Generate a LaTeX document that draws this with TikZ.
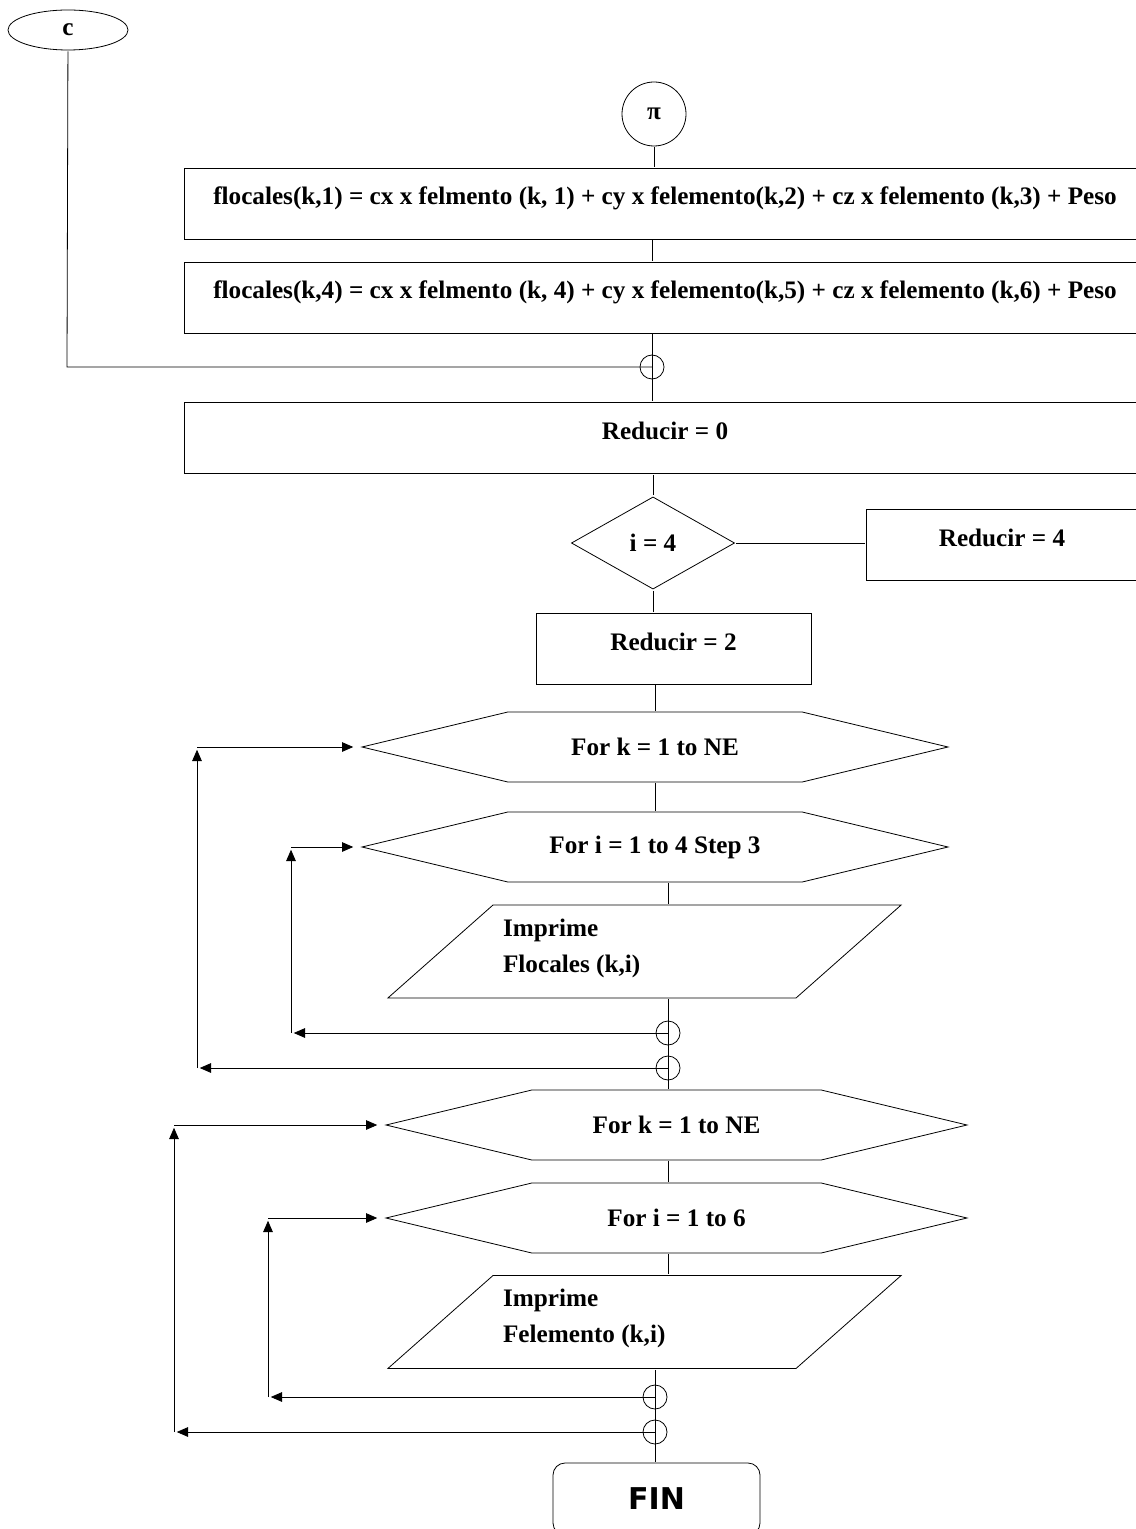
\documentclass[tikz,border=0pt]{standalone}
\usepackage{fontspec}
\setmainfont{Liberation Serif}
\newfontfamily\finfont{DejaVu Sans}
\usetikzlibrary{shapes.geometric,shapes.symbols,arrows.meta}

\begin{document}
\begin{tikzpicture}
                \tikzset{x=0.5pt, y=-0.5pt, line width=1.4pt, >={Triangle[length=7.5pt,width=6pt]}}
                \tikzstyle{every node}=[font=\bfseries\fontsize{12.6}{15}\selectfont]
                \tikzstyle{proc}=[rectangle, draw, minimum height=35.5pt, text height=9pt, text depth=7.5pt]
                \tikzstyle{loopin}=[signal, signal to=west and east, signal pointer angle=27, draw, minimum height=35pt]
                \tikzstyle{inout}=[trapezium, trapezium left angle=41.5, trapezium right angle=138.5, draw, inner sep=0pt, text width=151.5pt, text height=46.5pt, text depth=0pt]
                \tikzstyle{ptext}=[anchor=west, align=left]
                \tikzstyle{merge}=[circle, draw, minimum size=12pt, inner sep=0pt]

                \useasboundingbox (0,0) rectangle (1135,1529);

                % connectors to other pages
                \draw (68, 30)      node[ellipse, draw, minimum width=60pt, minimum height=20pt, inner sep=0pt] (c) {c};
                \draw (654, 114)    node[circle, draw, minimum size=32pt, inner sep=0pt] (pi) {π};
                \coordinate (cc) at (67, 367);

                % assignments
                \draw (665, 203.5)  node[proc, minimum width=481pt]   (b1)  {flocales(k,1) = cx x felmento (k, 1) + cy x felemento(k,2) + cz x felemento (k,3) + Peso};
                \draw (665, 297.5)  node[proc, minimum width=481pt]   (b2)  {flocales(k,4) = cx x felmento (k, 4) + cy x felemento(k,5) + cz x felemento (k,6) + Peso};
                \draw (652, 367)    node[merge]                       (j0)  {};
                \draw (665, 438)    node[proc, minimum width=481pt]   (b3)  {Reducir = 0};

                % decision
                \draw (653, 543)    node[diamond, draw, minimum width=82pt, minimum height=46.5pt, inner sep=0pt] (d) {i = 4};
                \draw (1002, 544.5) node[proc, minimum width=136pt]   (r4)  {Reducir = 4};
                \draw (673.5, 648.5) node[proc, minimum width=137.5pt] (r2) {Reducir = 2};

                % first pair of loops
                \draw (655, 747)    node[loopin, minimum width=293pt] (h1)  {For k = 1 to NE};
                \draw (655, 847)    node[loopin, minimum width=293pt] (h2)  {For i = 1 to 4 Step 3};
                \draw (644.5, 951.5) node[inout]                      (p1)  {};
                \draw (495, 948)    node[ptext]                       (p1t) {Imprime\\[3pt]Flocales (k,i)};
                \draw (668, 1033)   node[merge]                       (j1)  {};
                \draw (668, 1068)   node[merge]                       (j2)  {};

                % second pair of loops
                \draw (676.5, 1125) node[loopin, minimum width=290.5pt] (h3) {For k = 1 to NE};
                \draw (676.5, 1218) node[loopin, minimum width=290.5pt] (h4) {For i = 1 to 6};
                \draw (644.5, 1322) node[inout]                       (p2)  {};
                \draw (495, 1318)   node[ptext]                       (p2t) {Imprime\\[3pt]Felemento (k,i)};
                \draw (655, 1397)   node[merge]                       (j3)  {};
                \draw (655, 1432)   node[merge]                       (j4)  {};
                \draw (656.5, 1499) node[rectangle, rounded corners=6pt, draw, minimum width=103.5pt, minimum height=36pt, font=\finfont\bfseries\fontsize{15}{18}\selectfont] (fin) {FIN};

                % loop corners
                \coordinate (ib1) at (291, 1033);   \coordinate (it1) at (291, 847);
                \coordinate (ob1) at (197, 1068);   \coordinate (ot1) at (197, 747);
                \coordinate (ib2) at (268, 1397);   \coordinate (it2) at (268, 1218);
                \coordinate (ob2) at (174, 1432);   \coordinate (ot2) at (174, 1125);

                % flow lines
                \draw (c) -- (cc) -- (j0.center);
                \draw (pi) -- (pi |- b1.north);
                \draw (j0 |- b1.south) -- (j0 |- b2.north);
                \draw (j0 |- b2.south) -- (j0 |- b3.north);
                \draw (d.north |- b3.south) -- (d.north);
                \draw (d.east) -- (d.east -| r4.west);
                \draw (d.south) -- (d.south |- r2.north);
                \draw (h1.north |- r2.south) -- (h1.north);
                \draw (h1.south) -- (h2.north);
                \draw (j1 |- h2.south) -- (j1 |- p1.north);
                \draw (j1 |- p1.south) -- (j1 |- h3.north);
                \draw (j1 |- h3.south) -- (j1 |- h4.north);
                \draw (j1 |- h4.south) -- (j1 |- p2.north);
                \draw (j3 |- p2.south) -- (j3 |- fin.north);

                % loop arrows
                \draw [->] (j1.center) -- (ib1);
                \draw [->] (ib1) -- (it1);
                \draw [->] (it1) -- (h2.west);
                \draw [->] (j2.center) -- (ob1);
                \draw [->] (ob1) -- (ot1);
                \draw [->] (ot1) -- (h1.west);
                \draw [->] (j3.center) -- (ib2);
                \draw [->] (ib2) -- (it2);
                \draw [->] (it2) -- (h4.west);
                \draw [->] (j4.center) -- (ob2);
                \draw [->] (ob2) -- (ot2);
                \draw [->] (ot2) -- (h3.west);
\end{tikzpicture}
\end{document}
